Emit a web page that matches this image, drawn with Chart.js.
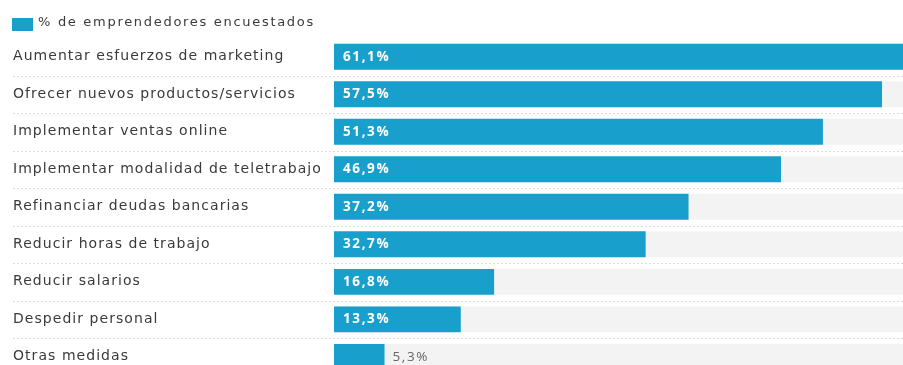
<!DOCTYPE html>
<html>
<head>
<meta charset="utf-8">
<script src="https://cdn.jsdelivr.net/npm/chart.js@4"></script>
<style>
  html, body { margin: 0; padding: 0; overflow: hidden; background: #fff; }
  #frame { width: 903px; height: 365px; overflow: hidden; position: relative; }
  #medidasChart { position: absolute; left: 0; top: 0; }
</style>
</head>
<body>
<div id="frame"><canvas id="medidasChart" width="903" height="387"></canvas></div>
<script>
const categories = [
    "Aumentar esfuerzos de marketing",
    "Ofrecer nuevos productos/servicios",
    "Implementar ventas online",
    "Implementar modalidad de teletrabajo",
    "Refinanciar deudas bancarias",
    "Reducir horas de trabajo",
    "Reducir salarios",
    "Despedir personal",
    "Otras medidas"
];
const values = [61.1, 57.5, 51.3, 46.9, 37.2, 32.7, 16.8, 13.3, 5.3];
const seriesName = "% de emprendedores encuestados";
const axisMax = 59.7;

const BLUE = "#199fcb";
const LABEL_FONT = "'DejaVu Sans', sans-serif";
const VALUE_FONT = "'Open Sans', sans-serif";

// wider tracking for all canvas text
const spacing = {
    id: 'spacing',
    beforeDraw(chart) { chart.ctx.letterSpacing = '1.05px'; }
};

// legend drawn by hand in the top-left corner
const legendBox = {
    id: 'legendBox',
    afterDraw(chart) {
        const ctx = chart.ctx;
        const ds = chart.data.datasets[0];
        ctx.save();
        ctx.fillStyle = ds.backgroundColor;
        ctx.fillRect(12, 18, 21, 13);
        ctx.letterSpacing = '1.7px';
        ctx.font = "13px " + LABEL_FONT;
        ctx.fillStyle = "#3a3a3a";
        ctx.textBaseline = 'middle';
        ctx.fillText(ds.label, 38, 23);
        ctx.restore();
    }
};

// gray track behind every bar + dotted separators between rows
const trackPlugin = {
    id: 'tracks',
    beforeDatasetsDraw(chart) {
        const ctx = chart.ctx;
        const area = chart.chartArea;
        const meta = chart.getDatasetMeta(0);
        const yScale = chart.scales.y;
        ctx.save();
        meta.data.forEach((bar) => {
            const h = bar.height;
            ctx.fillStyle = "#f3f3f3";
            ctx.fillRect(area.left, bar.y - h / 2, area.right - area.left, h);
        });
        ctx.strokeStyle = "#dcdcdc";
        ctx.lineWidth = 1;
        ctx.setLineDash([2, 2]);
        for (let i = 0; i < categories.length - 1; i++) {
            const y = Math.round((yScale.getPixelForValue(i) + yScale.getPixelForValue(i + 1)) / 2) + 0.5;
            ctx.beginPath();
            ctx.moveTo(13, y);
            ctx.lineTo(area.right, y);
            ctx.stroke();
        }
        ctx.restore();
    }
};

// value labels: white inside long bars, gray outside short ones
const valueLabels = {
    id: 'valueLabels',
    afterDatasetsDraw(chart) {
        const ctx = chart.ctx;
        const meta = chart.getDatasetMeta(0);
        ctx.save();
        ctx.textBaseline = 'middle';
        ctx.letterSpacing = '1.6px';
        meta.data.forEach((bar, i) => {
            const txt = values[i].toFixed(1).replace('.', ',') + '%';
            if (values[i] > 10) {
                ctx.font = "bold 13.5px " + VALUE_FONT;
                ctx.fillStyle = "#ffffff";
                ctx.fillText(txt, bar.base + 9, bar.y);
            } else {
                ctx.font = "13.5px " + VALUE_FONT;
                ctx.fillStyle = "#666666";
                ctx.fillText(txt, bar.x + 8, bar.y);
            }
        });
        ctx.restore();
    }
};

new Chart(document.getElementById("medidasChart"), {
    type: 'bar',
    data: {
        labels: categories,
        datasets: [{
            label: seriesName,
            data: values,
            backgroundColor: BLUE,
            borderWidth: 0,
            barPercentage: 0.69,
            categoryPercentage: 1
        }]
    },
    options: {
        indexAxis: 'y',
        responsive: false,
        animation: false,
        layout: { padding: { left: 13, top: 38, right: 0, bottom: 0 } },
        plugins: {
            tooltip: { enabled: false },
            legend: { display: false }
        },
        scales: {
            x: {
                display: false,
                min: 0,
                max: axisMax
            },
            y: {
                grid: { display: false },
                border: { display: false },
                ticks: {
                    crossAlign: 'far',
                    color: "#3a3a3a",
                    font: { family: LABEL_FONT, size: 14 }
                },
                afterFit(scale) { scale.width = 321; }
            }
        }
    },
    plugins: [spacing, trackPlugin, valueLabels, legendBox]
});
</script>
</body>
</html>
